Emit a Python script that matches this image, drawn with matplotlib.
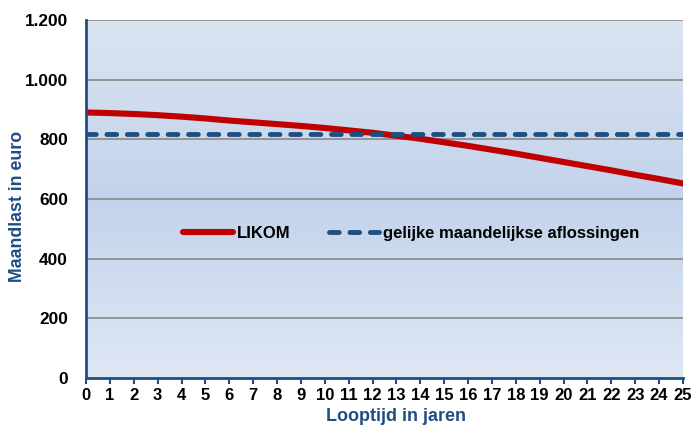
import numpy as np
from matplotlib import pyplot as plt
from matplotlib.colors import LinearSegmentedColormap

plt.rcParams['font.family'] = ['Liberation Sans', 'DejaVu Sans']
plt.rcParams['font.weight'] = 'bold'

years = np.arange(0, 26)
likom = [890, 888, 885, 881, 876, 870, 863, 857, 851, 845, 838, 830, 822,
         812, 802, 790, 778, 765, 752, 738, 724, 710, 696, 681, 667, 652]
gelijk = [818] * 26
y_ticks = [0, 200, 400, 600, 800, 1000, 1200]
y_labels = ['0', '200', '400', '600', '800', '1.000', '1.200']

blue = '#1f4e82'

fig = plt.figure(figsize=(6.92, 4.26), dpi=100)
ax = fig.add_axes([86 / 692, 48 / 426, 597 / 692, 358 / 426])

# vertical gradient behind the plot
cmap = LinearSegmentedColormap.from_list(
    'bg', [(0.0, '#dfe7f3'), (0.5, '#c3d3ec'), (1.0, '#dbe4f1')])
grad = np.linspace(0, 1, 256).reshape(-1, 1)
ax.imshow(grad, cmap=cmap, aspect='auto', extent=[0, 1, 0, 1],
          transform=ax.transAxes, origin='lower', zorder=0)

for t in y_ticks[1:]:
    ax.axhline(t, color='#8e8e8e', lw=1.3, zorder=1)

ax.plot(years, likom, color='#c00000', lw=4.4, solid_capstyle='round',
        zorder=3, label='LIKOM')
ax.plot(years, gelijk, color=blue, lw=3.5, dashes=(2.0, 2.2),
        dash_capstyle='round', zorder=4,
        label='gelijke maandelijkse aflossingen')

ax.set_xlim(0, 25)
ax.set_ylim(0, 1200)
ax.set_xticks(years)
ax.set_xticklabels([str(y) for y in years], fontsize=12, fontweight='bold')
ax.set_yticks(y_ticks)
ax.set_yticklabels(y_labels, fontsize=12.4, fontweight='bold')
ax.tick_params(axis='x', direction='out', length=4, width=1.5, color=blue, pad=3)
ax.tick_params(axis='y', length=0, pad=13)

for pos in ['top', 'right']:
    ax.spines[pos].set_visible(False)
for pos in ['left', 'bottom']:
    ax.spines[pos].set_color(blue)
    ax.spines[pos].set_linewidth(2)
    ax.spines[pos].set_zorder(5)

ax.set_ylabel('Maandlast in euro', color=blue, fontsize=12.8, fontweight='bold')
ax.yaxis.set_label_coords(-0.1, 0.48)
ax.set_xlabel('Looptijd in jaren', color=blue, fontsize=13, fontweight='bold')
ax.xaxis.set_label_coords(0.519, -0.085)

leg = ax.legend(loc='center', bbox_to_anchor=(0.545, 0.405), ncol=2,
                frameon=False, handlelength=3.0, handletextpad=0.25,
                columnspacing=2.3, prop={'size': 12, 'weight': 'bold'})

fig.savefig('out.png', dpi=100)
